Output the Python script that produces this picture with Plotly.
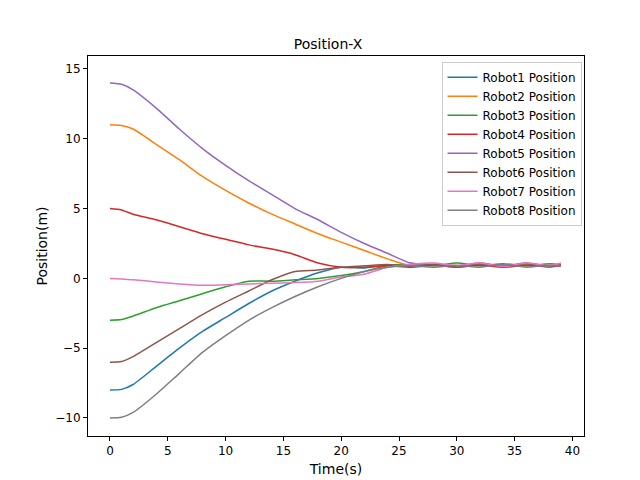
import plotly.graph_objects as go

# === Datos ===
t = [0, 1, 2, 4, 6, 8, 10, 12, 14, 16, 18, 20, 22, 24, 26, 28, 30, 32, 34, 36, 38, 39]

robot1 = [-8, -7.95, -7.6, -6.3, -5.0, -3.8, -2.8, -1.8, -0.9, -0.2, 0.4, 0.8, 0.75, 0.95, 0.9, 1.0, 0.85, 1.0, 0.85, 1.0, 0.85, 0.9]
robot2 = [11, 10.95, 10.7, 9.6, 8.5, 7.3, 6.3, 5.4, 4.6, 3.9, 3.2, 2.6, 2.0, 1.4, 0.9, 1.0, 0.8, 1.05, 0.85, 1.0, 0.8, 0.9]
robot3 = [-3, -2.95, -2.7, -2.1, -1.6, -1.1, -0.6, -0.2, -0.2, -0.1, 0.0, 0.2, 0.5, 0.9, 1.0, 0.9, 1.1, 0.9, 1.05, 0.9, 1.05, 1.0]
robot4 = [5, 4.9, 4.6, 4.2, 3.7, 3.2, 2.8, 2.4, 2.1, 1.7, 1.1, 0.8, 0.8, 0.9, 0.8, 0.95, 0.8, 0.95, 0.8, 0.95, 0.85, 0.9]
robot5 = [14, 13.9, 13.5, 12.2, 10.7, 9.3, 8.1, 7.0, 6.0, 5.0, 4.2, 3.3, 2.5, 1.8, 1.1, 1.0, 0.9, 1.1, 0.9, 1.1, 0.9, 1.0]
robot6 = [-6, -5.95, -5.6, -4.6, -3.6, -2.6, -1.7, -0.9, -0.1, 0.5, 0.6, 0.8, 0.9, 1.0, 0.85, 1.0, 0.85, 1.05, 0.85, 1.05, 0.85, 1.0]
robot7 = [0, -0.05, -0.1, -0.25, -0.4, -0.5, -0.45, -0.4, -0.35, -0.3, -0.2, 0.1, 0.3, 0.8, 1.0, 1.1, 0.9, 1.1, 0.85, 1.1, 0.9, 1.1]
robot8 = [-10, -9.95, -9.6, -8.3, -6.8, -5.3, -4.1, -3.0, -2.1, -1.3, -0.6, 0.0, 0.5, 0.8, 0.9, 0.8, 0.95, 0.8, 1.0, 0.8, 0.95, 0.9]

series = [robot1, robot2, robot3, robot4, robot5, robot6, robot7, robot8]
colors = ['#1f77b4', '#ff7f0e', '#2ca02c', '#d62728', '#9467bd', '#8c564b', '#e377c2', '#7f7f7f']

fig = go.Figure()
for i, (y, c) in enumerate(zip(series, colors)):
    fig.add_trace(go.Scatter(x=t, y=y, mode='lines', name=f'Robot{i + 1} Position',
                             line=dict(color=c, width=1.5, shape='spline', smoothing=0.6)))

axis = dict(showgrid=False, zeroline=False, showline=True, linecolor='black', mirror=True,
            ticks='outside', ticklen=4, tickcolor='black', automargin=False)

fig.update_layout(
    width=640, height=480,
    template='plotly_white',
    font=dict(family='DejaVu Sans', size=12, color='black'),
    title=dict(text='Position-X', x=0.5, xanchor='center', y=0.935, font=dict(size=14)),
    margin=dict(l=80, r=64, t=48, b=52, autoexpand=False),
    xaxis=dict(axis, range=[-1.9, 41.0], tickvals=[0, 5, 10, 15, 20, 25, 30, 35, 40],
               title=dict(text='Time(s)', standoff=6)),
    yaxis=dict(axis, range=[-11.29, 15.93], tickvals=[-10, -5, 0, 5, 10, 15],
               title=dict(text='Position(m)', standoff=4)),
    legend=dict(x=0.995, y=0.985, xanchor='right', yanchor='top', bordercolor='#cccccc',
                borderwidth=1, bgcolor='rgba(255,255,255,0.8)', font=dict(size=12),
                tracegroupgap=0, itemwidth=30),
    paper_bgcolor='white', plot_bgcolor='white',
)

fig.write_html("out.html")
